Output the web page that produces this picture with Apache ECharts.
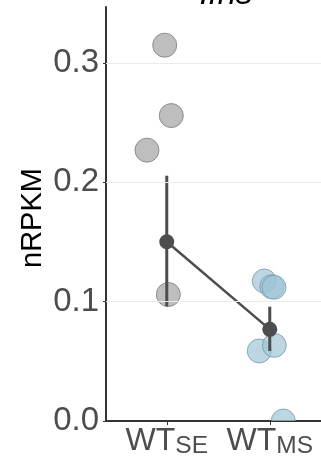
<!DOCTYPE html>
<html>
<head>
<meta charset="utf-8">
<script src="https://cdn.jsdelivr.net/npm/echarts@6/dist/echarts.min.js"></script>
<style>
  html, body { margin: 0; padding: 0; background: #fff; }
  #chart { width: 321px; height: 469px; }
</style>
</head>
<body>
<div id="chart"></div>
<script>
    // category positions on the x value axis, with tick label parts
    var catPos = [1, 2];
    var catMain = ['WT', 'WT'];
    var catSub = ['SE', 'MS'];
    var yTicks = [0, 0.1, 0.2, 0.3];

    // single points (jittered x, value)
    var seX = [0.98, 1.044, 0.808, 1.015];
    var seY = [0.315, 0.256, 0.227, 0.106];
    var msX = [1.947, 2.019, 2.041, 1.898, 2.044, 2.131];
    var msY = [0.1174, 0.1126, 0.1121, 0.0587, 0.0634, 0.0];

    // group summary (mean and error bar)
    var meanY = [0.1503, 0.0768];
    var lowY = [0.096, 0.0587];
    var highY = [0.2056, 0.0958];

    var font = "'Liberation Sans', Arial, sans-serif";
    var dark = '#4d4d4d';

    function pairs (xs, ys) {
        return xs.map(function (x, i) { return [x, ys[i]]; });
    }

    // points drawn as clipped circles so a point at 0 is cut by the panel
    function dotSeries (xs, ys, fill, stroke) {
        return {
            type: 'custom',
            z: 2,
            clip: true,
            data: pairs(xs, ys),
            renderItem: function (params, api) {
                var p = api.coord([api.value(0), api.value(1)]);
                return {
                    type: 'circle',
                    shape: { cx: p[0], cy: p[1], r: 12 },
                    style: { fill: fill, stroke: stroke, lineWidth: 1 }
                };
            }
        };
    }

    var chart = echarts.init(document.getElementById('chart'));

    var option = {
        animation: false,
        grid: { left: 106, right: 0, top: 7, bottom: 48, containLabel: false },
        xAxis: {
            type: 'value',
            min: 0.41,
            max: 2.4974,
            axisLine: { show: true, onZero: false, lineStyle: { color: '#333', width: 2 } },
            axisTick: { show: true, customValues: catPos, length: 4, lineStyle: { color: '#333', width: 1 } },
            axisLabel: {
                customValues: catPos,
                margin: 2,
                formatter: function (v) {
                    var i = catPos.indexOf(v);
                    return '{a|' + catMain[i] + '}{b|' + catSub[i] + '}';
                },
                rich: {
                    a: { fontSize: 32, fontFamily: font, color: dark, lineHeight: 36 },
                    b: { fontSize: 24.5, fontFamily: font, color: dark, lineHeight: 18, verticalAlign: 'bottom' }
                }
            },
            splitLine: { show: false }
        },
        yAxis: {
            type: 'value',
            min: 0,
            max: 0.347,
            axisLine: { show: true, onZero: false, lineStyle: { color: '#333', width: 2 } },
            axisTick: { show: true, customValues: yTicks, length: 3, lineStyle: { color: '#333', width: 1 } },
            axisLabel: {
                customValues: yTicks,
                margin: 7,
                fontSize: 33,
                fontFamily: font,
                color: dark,
                formatter: function (v) { return v.toFixed(1); }
            },
            splitLine: { show: false }
        },
        graphic: [
            {
                type: 'text',
                x: 226,
                y: 11,
                style: {
                    text: 'Ifns',
                    font: 'italic 33px ' + font,
                    fill: '#000',
                    textAlign: 'center',
                    textVerticalAlign: 'bottom'
                }
            },
            {
                type: 'text',
                x: 33,
                y: 218,
                rotation: Math.PI / 2,
                style: {
                    text: 'nRPKM',
                    font: '29px ' + font,
                    fill: '#000',
                    textAlign: 'center',
                    textVerticalAlign: 'middle'
                }
            }
        ],
        series: [
            {
                // grid lines
                type: 'scatter',
                data: [],
                z: 0,
                silent: true,
                markLine: {
                    silent: true,
                    symbol: ['none', 'none'],
                    label: { show: false },
                    lineStyle: { color: '#ebebeb', width: 1, type: 'solid' },
                    data: yTicks.slice(1).map(function (v) { return { yAxis: v }; })
                }
            },
            dotSeries(seX, seY, '#bebebe', '#8c8c8c'),
            dotSeries(msX, msY, 'rgba(160,196,213,0.7)', 'rgba(110,150,170,0.75)'),
            {
                type: 'custom',
                z: 3,
                data: catPos.map(function (x, i) { return [x, lowY[i], highY[i]]; }),
                renderItem: function (params, api) {
                    var p1 = api.coord([api.value(0), api.value(1)]);
                    var p2 = api.coord([api.value(0), api.value(2)]);
                    return {
                        type: 'line',
                        shape: { x1: p1[0], y1: p1[1], x2: p2[0], y2: p2[1] },
                        style: { stroke: dark, lineWidth: 3 }
                    };
                }
            },
            {
                type: 'line',
                z: 4,
                symbol: 'circle',
                symbolSize: 15,
                itemStyle: { color: dark },
                lineStyle: { color: dark, width: 2.5 },
                data: pairs(catPos, meanY)
            }
        ]
    };

    chart.setOption(option);
</script>
</body>
</html>
